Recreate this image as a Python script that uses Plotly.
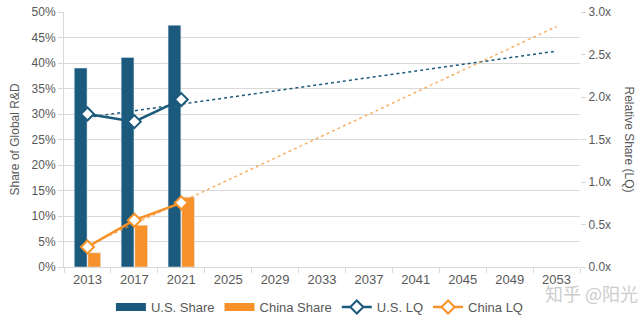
import plotly.graph_objects as go

years = ["2013", "2017", "2021", "2025", "2029", "2033", "2037", "2041", "2045", "2049", "2053"]
data_years = ["2013", "2017", "2021"]
us_share = [0.390, 0.411, 0.474]
china_share = [0.028, 0.082, 0.137]
us_lq = [1.80, 1.71, 1.97]
china_lq = [0.236, 0.55, 0.755]
trend_years = ["2013", "2053"]
us_trend = [1.76, 2.54]
china_trend = [0.25, 2.83]

US_C = "#1B5A7D"
CN_C = "#F7922A"
TXT = "#595959"
FONT = "Liberation Sans"

fig = go.Figure()
fig.add_trace(go.Bar(x=data_years, y=us_share, name="U.S. Share", marker_color=US_C, showlegend=False))
fig.add_trace(go.Bar(x=data_years, y=china_share, name="China Share", marker_color=CN_C, showlegend=False))
# legend swatches for the bar series (wide rectangles like the reference)
fig.add_trace(go.Scatter(x=[None], y=[None], mode="lines", name="U.S. Share",
                         line=dict(color=US_C, width=8)))
fig.add_trace(go.Scatter(x=[None], y=[None], mode="lines", name="China Share",
                         line=dict(color=CN_C, width=8)))
fig.add_trace(go.Scatter(x=trend_years, y=us_trend, yaxis="y2", mode="lines",
                         line=dict(color=US_C, width=1.5, dash="dot"), showlegend=False, hoverinfo="skip"))
fig.add_trace(go.Scatter(x=trend_years, y=china_trend, yaxis="y2", mode="lines",
                         line=dict(color=CN_C, width=1.5, dash="dot"), opacity=0.7, showlegend=False, hoverinfo="skip"))
fig.add_trace(go.Scatter(x=data_years, y=us_lq, yaxis="y2", name="U.S. LQ", mode="lines+markers",
                         line=dict(color=US_C, width=2.5),
                         marker=dict(symbol="diamond", size=10, color="white", line=dict(color=US_C, width=2))))
fig.add_trace(go.Scatter(x=data_years, y=china_lq, yaxis="y2", name="China LQ", mode="lines+markers",
                         line=dict(color=CN_C, width=2.5),
                         marker=dict(symbol="diamond", size=10, color="white", line=dict(color=CN_C, width=2))))

fig.update_layout(
    width=642, height=321,
    margin=dict(l=64, r=62, t=12, b=54, autoexpand=False),
    paper_bgcolor="white", plot_bgcolor="white",
    font=dict(family=FONT, size=12, color=TXT),
    barmode="group", bargap=0.42, bargroupgap=0.06,
    xaxis=dict(type="category", categoryorder="array", categoryarray=years,
               range=[-0.5, 10.5], showgrid=False, showline=True, linecolor="#D9D9D9",
               ticks="outside", tickson="boundaries", ticklen=5, tickcolor="#D9D9D9",
               tickfont=dict(size=13, color=TXT)),
    yaxis=dict(range=[0, 0.5], dtick=0.05, tickformat=".0%", showgrid=True, gridcolor="#D9D9D9",
               showline=True, linecolor="#D9D9D9", ticks="outside", ticklen=5, tickcolor="#D9D9D9",
               zeroline=False, tickfont=dict(size=12, color=TXT)),
    yaxis2=dict(range=[0, 3], dtick=0.5, tickformat=".1f", ticksuffix="x", overlaying="y", side="right",
                showgrid=False, showline=False, ticks="outside", ticklen=5, tickcolor="#D9D9D9",
                zeroline=False, tickfont=dict(size=12, color=TXT)),
    legend=dict(orientation="h", x=0.496, xanchor="center", y=-0.157, yanchor="middle",
                font=dict(size=13, color=TXT), itemwidth=30, tracegroupgap=0),
    showlegend=True,
    annotations=[
        dict(text="Share of Global R&D", xref="paper", yref="paper", x=-0.095, y=0.5,
             textangle=-90, showarrow=False, font=dict(size=12, color=TXT), xanchor="center", yanchor="middle"),
        dict(text="Relative Share (LQ)", xref="paper", yref="paper", x=1.095, y=0.5,
             textangle=90, showarrow=False, font=dict(size=12, color=TXT), xanchor="center", yanchor="middle"),
        dict(text="知乎 @阳光", xref="paper", yref="paper", x=1.022, y=-0.1, xanchor="center", yanchor="middle",
             showarrow=False, font=dict(family="Noto Sans CJK SC", size=18, color="#CDCDCD")),
    ],
)

fig.write_html("out.html")
